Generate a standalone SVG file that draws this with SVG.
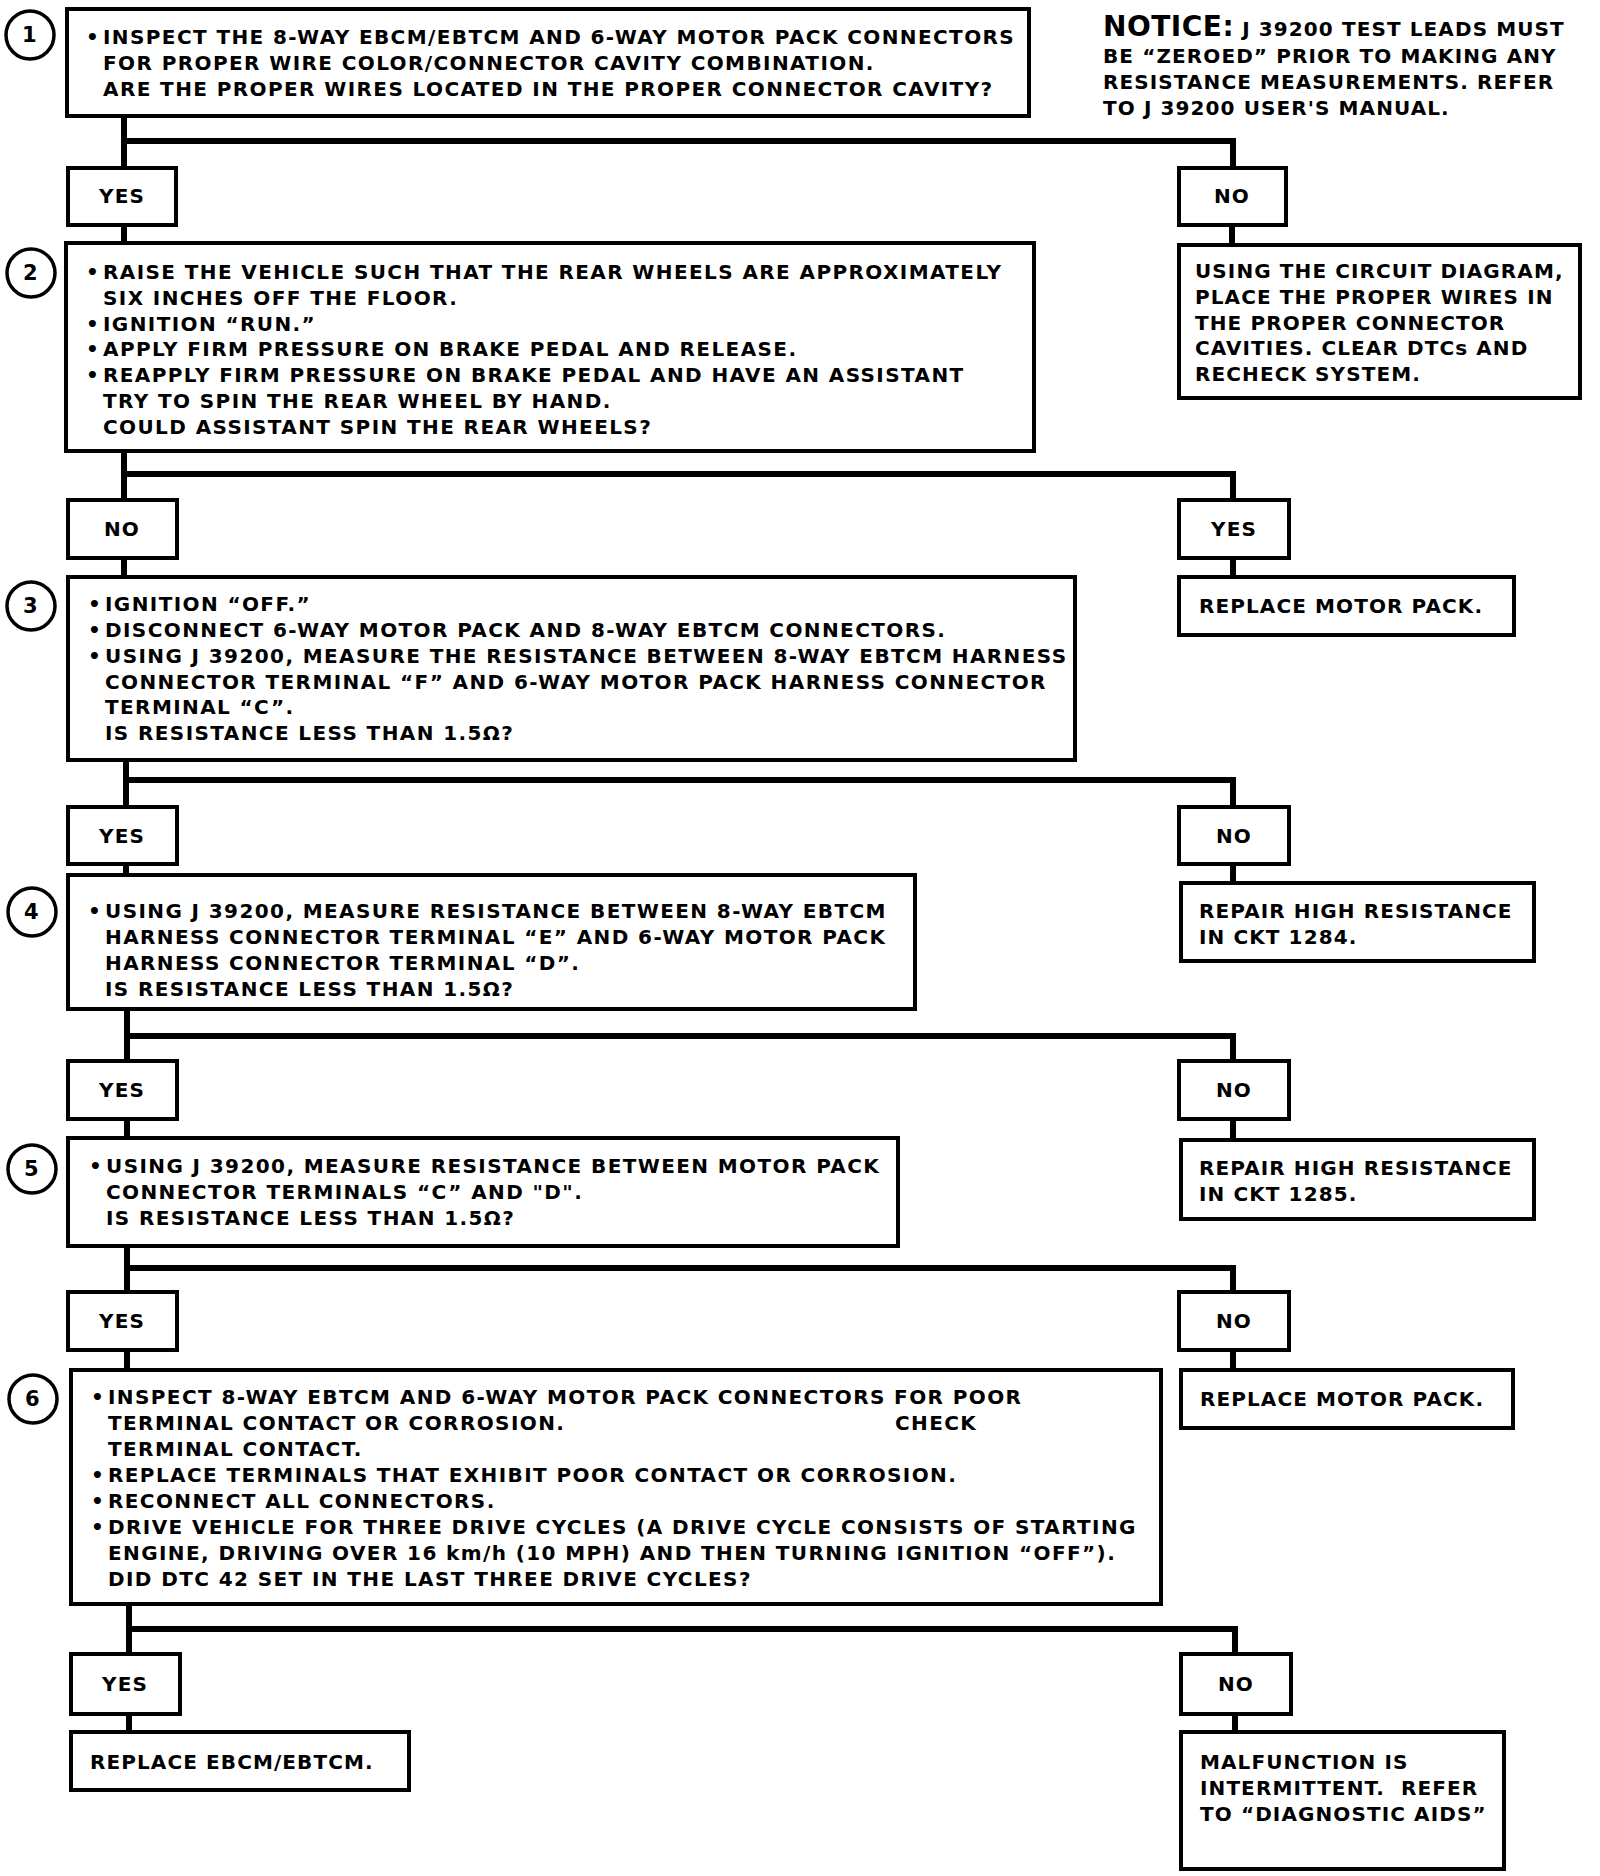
<svg xmlns="http://www.w3.org/2000/svg" width="1600" height="1876" viewBox="0 0 1600 1876">
<style>
.box{fill:#fff;stroke:#000;stroke-width:4}
.conn{fill:none;stroke:#000;stroke-width:6}
.num{fill:#fff;stroke:#000;stroke-width:3.5}
text{font-family:"DejaVu Sans","Liberation Sans",sans-serif;font-weight:bold;font-size:20px;letter-spacing:1.1px;fill:#000}
.m text{letter-spacing:1.4px}
.c{text-anchor:middle}
.big{font-size:28px;letter-spacing:0.5px}
.n{letter-spacing:0;font-size:21px}
</style>
<rect width="1600" height="1876" fill="#fff"/>
<g id="connectors">
<path class="conn" d="M124,116 V168 M124,141 H1233 V168"/>
<path class="conn" d="M124,225 V243"/>
<path class="conn" d="M1232,225 V245"/>
<path class="conn" d="M124,451 V500 M124,474 H1233 V500"/>
<path class="conn" d="M124,558 V577"/>
<path class="conn" d="M1233,558 V577"/>
<path class="conn" d="M126,760 V807 M126,780 H1233 V807"/>
<path class="conn" d="M126,864 V875"/>
<path class="conn" d="M1233,864 V883"/>
<path class="conn" d="M127,1009 V1061 M127,1036 H1233 V1061"/>
<path class="conn" d="M127,1119 V1138"/>
<path class="conn" d="M1233,1119 V1140"/>
<path class="conn" d="M127,1246 V1292 M127,1268 H1233 V1292"/>
<path class="conn" d="M127,1350 V1370"/>
<path class="conn" d="M1233,1350 V1370"/>
<path class="conn" d="M129,1604 V1654 M129,1629 H1235 V1654"/>
<path class="conn" d="M129,1714 V1732"/>
<path class="conn" d="M1235,1714 V1732"/>
</g>
<g id="notice">
<text x="1103" y="36"><tspan class="big">NOTICE:</tspan> J 39200 TEST LEADS MUST</text>
<text x="1103" y="63">BE “ZEROED” PRIOR TO MAKING ANY</text>
<text x="1103" y="89">RESISTANCE MEASUREMENTS. REFER</text>
<text x="1103" y="115">TO J 39200 USER'S MANUAL.</text>
</g>
<g id="step1" class="m">
<circle class="num" cx="30" cy="35" r="24"/><text class="c n" x="30" y="42">1</text>
<rect class="box" x="67" y="9" width="962" height="107"/>
<text x="86" y="44">•</text><text x="103" y="44">INSPECT THE 8-WAY EBCM/EBTCM AND 6-WAY MOTOR PACK CONNECTORS</text>
<text x="103" y="70">FOR PROPER WIRE COLOR/CONNECTOR CAVITY COMBINATION.</text>
<text x="103" y="96">ARE THE PROPER WIRES LOCATED IN THE PROPER CONNECTOR CAVITY?</text>
</g>
<g id="yes1"><rect class="box" x="68" y="168" width="108" height="57"/><text class="c" x="122" y="203">YES</text></g>
<g id="no1"><rect class="box" x="1179" y="168" width="107" height="57"/><text class="c" x="1232" y="203">NO</text></g>
<g id="act1">
<rect class="box" x="1179" y="245" width="401" height="153"/>
<text x="1195" y="278">USING THE CIRCUIT DIAGRAM,</text>
<text x="1195" y="304">PLACE THE PROPER WIRES IN</text>
<text x="1195" y="330">THE PROPER CONNECTOR</text>
<text x="1195" y="355">CAVITIES. CLEAR DTCs AND</text>
<text x="1195" y="381">RECHECK SYSTEM.</text>
</g>
<g id="step2" class="m">
<circle class="num" cx="31" cy="273" r="24"/><text class="c n" x="31" y="280">2</text>
<rect class="box" x="66" y="243" width="968" height="208"/>
<text x="86" y="279">•</text><text x="103" y="279">RAISE THE VEHICLE SUCH THAT THE REAR WHEELS ARE APPROXIMATELY</text>
<text x="103" y="305">SIX INCHES OFF THE FLOOR.</text>
<text x="86" y="331">•</text><text x="103" y="331">IGNITION “RUN.”</text>
<text x="86" y="356">•</text><text x="103" y="356">APPLY FIRM PRESSURE ON BRAKE PEDAL AND RELEASE.</text>
<text x="86" y="382">•</text><text x="103" y="382">REAPPLY FIRM PRESSURE ON BRAKE PEDAL AND HAVE AN ASSISTANT</text>
<text x="103" y="408">TRY TO SPIN THE REAR WHEEL BY HAND.</text>
<text x="103" y="434">COULD ASSISTANT SPIN THE REAR WHEELS?</text>
</g>
<g id="no2"><rect class="box" x="68" y="500" width="109" height="58"/><text class="c" x="122" y="536">NO</text></g>
<g id="yes2"><rect class="box" x="1179" y="500" width="110" height="58"/><text class="c" x="1234" y="536">YES</text></g>
<g id="act2"><rect class="box" x="1179" y="577" width="335" height="58"/><text x="1199" y="613">REPLACE MOTOR PACK.</text></g>
<g id="step3" class="m">
<circle class="num" cx="31" cy="606" r="24"/><text class="c n" x="31" y="613">3</text>
<rect class="box" x="68" y="577" width="1007" height="183"/>
<text x="88" y="611">•</text><text x="105" y="611">IGNITION “OFF.”</text>
<text x="88" y="637">•</text><text x="105" y="637">DISCONNECT 6-WAY MOTOR PACK AND 8-WAY EBTCM CONNECTORS.</text>
<text x="88" y="663">•</text><text x="105" y="663">USING J 39200, MEASURE THE RESISTANCE BETWEEN 8-WAY EBTCM HARNESS</text>
<text x="105" y="689">CONNECTOR TERMINAL “F” AND 6-WAY MOTOR PACK HARNESS CONNECTOR</text>
<text x="105" y="714">TERMINAL “C”.</text>
<text x="105" y="740">IS RESISTANCE LESS THAN 1.5Ω?</text>
</g>
<g id="yes3"><rect class="box" x="68" y="807" width="109" height="57"/><text class="c" x="122" y="843">YES</text></g>
<g id="no3"><rect class="box" x="1179" y="807" width="110" height="57"/><text class="c" x="1234" y="843">NO</text></g>
<g id="act3"><rect class="box" x="1181" y="883" width="353" height="78"/>
<text x="1199" y="918">REPAIR HIGH RESISTANCE</text><text x="1199" y="944">IN CKT 1284.</text></g>
<g id="step4" class="m">
<circle class="num" cx="32" cy="912" r="24"/><text class="c n" x="32" y="919">4</text>
<rect class="box" x="68" y="875" width="847" height="134"/>
<text x="88" y="918">•</text><text x="105" y="918">USING J 39200, MEASURE RESISTANCE BETWEEN 8-WAY EBTCM</text>
<text x="105" y="944">HARNESS CONNECTOR TERMINAL “E” AND 6-WAY MOTOR PACK</text>
<text x="105" y="970">HARNESS CONNECTOR TERMINAL “D”.</text>
<text x="105" y="996">IS RESISTANCE LESS THAN 1.5Ω?</text>
</g>
<g id="yes4"><rect class="box" x="68" y="1061" width="109" height="58"/><text class="c" x="122" y="1097">YES</text></g>
<g id="no4"><rect class="box" x="1179" y="1061" width="110" height="58"/><text class="c" x="1234" y="1097">NO</text></g>
<g id="act4"><rect class="box" x="1181" y="1140" width="353" height="79"/>
<text x="1199" y="1175">REPAIR HIGH RESISTANCE</text><text x="1199" y="1201">IN CKT 1285.</text></g>
<g id="step5" class="m">
<circle class="num" cx="32" cy="1169" r="24"/><text class="c n" x="32" y="1176">5</text>
<rect class="box" x="68" y="1138" width="830" height="108"/>
<text x="89" y="1173">•</text><text x="106" y="1173">USING J 39200, MEASURE RESISTANCE BETWEEN MOTOR PACK</text>
<text x="106" y="1199">CONNECTOR TERMINALS “C” AND "D".</text>
<text x="106" y="1225">IS RESISTANCE LESS THAN 1.5Ω?</text>
</g>
<g id="yes5"><rect class="box" x="68" y="1292" width="109" height="58"/><text class="c" x="122" y="1328">YES</text></g>
<g id="no5"><rect class="box" x="1179" y="1292" width="110" height="58"/><text class="c" x="1234" y="1328">NO</text></g>
<g id="act5"><rect class="box" x="1181" y="1370" width="332" height="58"/><text x="1200" y="1406">REPLACE MOTOR PACK.</text></g>
<g id="step6" class="m">
<circle class="num" cx="33" cy="1399" r="24"/><text class="c n" x="33" y="1406">6</text>
<rect class="box" x="71" y="1370" width="1090" height="234"/>
<text x="91" y="1404">•</text><text x="108" y="1404">INSPECT 8-WAY EBTCM AND 6-WAY MOTOR PACK CONNECTORS FOR POOR</text>
<text x="108" y="1430">TERMINAL CONTACT OR CORROSION.</text><text x="895" y="1430">CHECK</text>
<text x="108" y="1456">TERMINAL CONTACT.</text>
<text x="91" y="1482">•</text><text x="108" y="1482">REPLACE TERMINALS THAT EXHIBIT POOR CONTACT OR CORROSION.</text>
<text x="91" y="1508">•</text><text x="108" y="1508">RECONNECT ALL CONNECTORS.</text>
<text x="91" y="1534">•</text><text x="108" y="1534">DRIVE VEHICLE FOR THREE DRIVE CYCLES (A DRIVE CYCLE CONSISTS OF STARTING</text>
<text x="108" y="1560">ENGINE, DRIVING OVER 16 km/h (10 MPH) AND THEN TURNING IGNITION “OFF”).</text>
<text x="108" y="1586">DID DTC 42 SET IN THE LAST THREE DRIVE CYCLES?</text>
</g>
<g id="yes6"><rect class="box" x="71" y="1654" width="109" height="60"/><text class="c" x="125" y="1691">YES</text></g>
<g id="no6"><rect class="box" x="1181" y="1654" width="110" height="60"/><text class="c" x="1236" y="1691">NO</text></g>
<g id="act6a"><rect class="box" x="71" y="1732" width="338" height="58"/><text x="90" y="1769">REPLACE EBCM/EBTCM.</text></g>
<g id="act6b"><rect class="box" x="1181" y="1732" width="323" height="137"/>
<text x="1200" y="1769">MALFUNCTION IS</text>
<text x="1200" y="1795" xml:space="preserve">INTERMITTENT.  REFER</text>
<text x="1200" y="1821">TO “DIAGNOSTIC AIDS”</text></g>
</svg>
